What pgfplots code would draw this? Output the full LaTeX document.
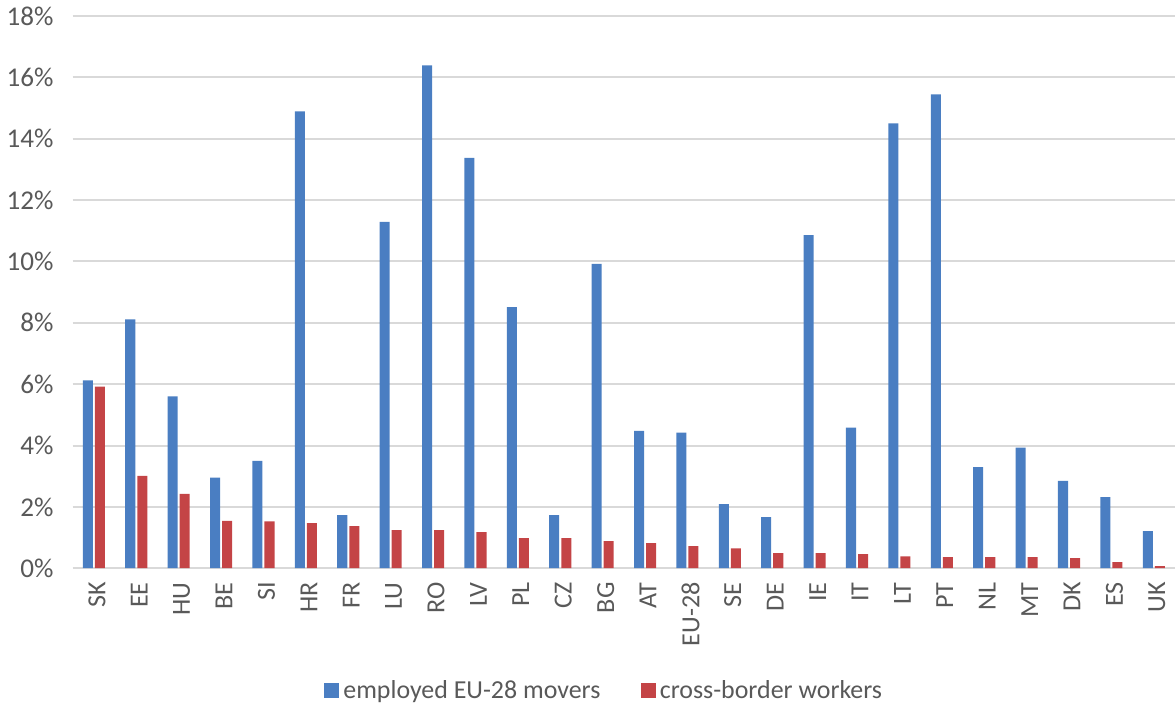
\documentclass[border=0pt]{standalone}
\usepackage{fontspec}
\setmainfont{Carlito}
\usepackage{pgfplots}
\pgfplotsset{compat=1.18}
\definecolor{cblue}{HTML}{4A7EC2}
\definecolor{cred}{HTML}{C44446}
\definecolor{cgrid}{HTML}{D9D9D9}
\definecolor{ctext}{HTML}{595959}
\begin{document}
\begin{tikzpicture}
\begin{axis}[
  scale only axis,
  width=549pt, height=275pt,
  ybar=1pt, bar width=5pt,
  xmin=-0.5, xmax=25.5,
  ymin=0, ymax=18,
  ytick={0,2,...,18},
  yticklabel={\pgfmathprintnumber{\tick}\%},
  /pgf/number format/assume math mode=true,
  xtick={0,...,25},
  xticklabels={SK,EE,HU,BE,SI,HR,FR,LU,RO,LV,PL,CZ,BG,AT,EU-28,SE,DE,IE,IT,LT,PT,NL,MT,DK,ES,UK},
  x tick label style={rotate=90, anchor=east, font=\fontsize{13}{15}\selectfont, text=ctext, xshift=-3.5pt, yshift=-1.5pt},
  y tick label style={font=\fontsize{13.5}{15}\selectfont, text=ctext, xshift=-6pt},
  major tick length=0pt,
  axis line style={draw=none},
  ymajorgrids, grid style={cgrid, line width=1pt},
  legend style={draw=none, at={(0.483,-0.222)}, anchor=center, legend columns=2,
    font=\fontsize{12.9}{15}\selectfont, text=ctext,
    /tikz/every even column/.append style={column sep=18pt}},
  legend image code/.code={\fill[#1] (0pt,-3.8pt) rectangle (7.6pt,3.8pt);},
]
\addplot[fill=cblue, draw=none] coordinates {
(0,6.12) (1,8.11) (2,5.6) (3,2.95) (4,3.5) (5,14.89) (6,1.73) (7,11.29) (8,16.39) (9,13.38)
(10,8.51) (11,1.73) (12,9.92) (13,4.48) (14,4.42) (15,2.09) (16,1.67) (17,10.86) (18,4.58)
(19,14.5) (20,15.45) (21,3.3) (22,3.93) (23,2.85) (24,2.32) (25,1.21)};
\addplot[fill=cred, draw=none] coordinates {
(0,5.92) (1,3.01) (2,2.42) (3,1.54) (4,1.53) (5,1.47) (6,1.37) (7,1.24) (8,1.24) (9,1.18)
(10,0.98) (11,0.98) (12,0.88) (13,0.82) (14,0.72) (15,0.65) (16,0.49) (17,0.49) (18,0.46)
(19,0.39) (20,0.36) (21,0.36) (22,0.36) (23,0.33) (24,0.2) (25,0.07)};
\legend{employed EU-28 movers, cross-border workers}
\end{axis}
\end{tikzpicture}
\end{document}
